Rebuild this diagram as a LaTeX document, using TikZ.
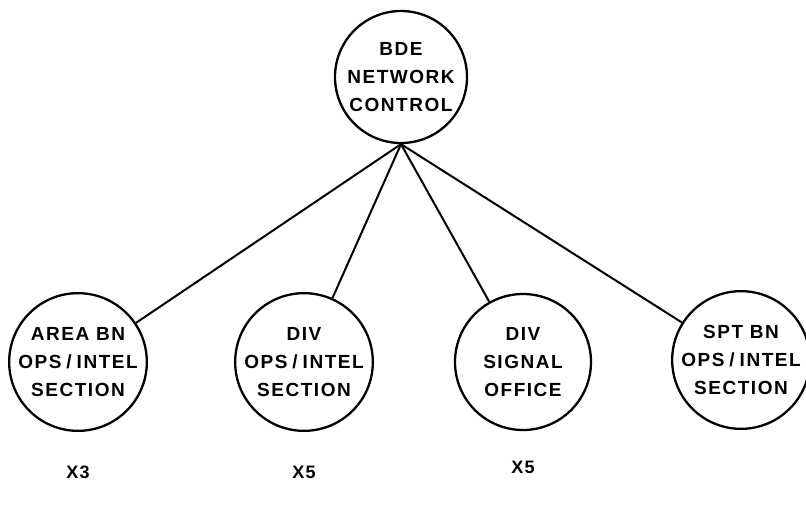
\documentclass[tikz,border=0pt]{standalone}
\usepackage{fontspec}
\setmainfont{Liberation Sans}[LetterSpace=8]
\newcommand{\sep}{\hspace{5pt}/\hspace{5pt}}
\begin{document}
\begin{tikzpicture}[x=1pt,y=-1pt,
  unit/.style={circle,draw,line width=2.3pt,minimum size=136pt,inner sep=0pt,
    align=center,font=\fontsize{19}{28}\selectfont\bfseries},
  link/.style={line width=2pt},
  count/.style={font=\fontsize{18}{20}\selectfont\bfseries}]
\useasboundingbox (0,0) rectangle (806,507);
\node[unit,minimum size=132pt] (bde) at (401,77) {BDE\\NETWORK\\CONTROL};
\node[unit] (area) at (78,362) {AREA BN\\OPS\sep INTEL\\SECTION};
\node[unit] (div) at (304,362) {DIV\\OPS\sep INTEL\\SECTION};
\node[unit] (sig) at (523,362) {DIV\\SIGNAL\\OFFICE};
\node[unit,minimum size=132pt] (spt) at (741,360) {SPT BN\\OPS\sep INTEL\\SECTION};
\coordinate (hub) at (bde.south);
\foreach \n in {area,div,sig,spt} \draw[link] (hub) -- (\n);
\node[count] (n1) at (78,472) {X3};
\node[count] (n2) at (304,472) {X5};
\node[count] (n3) at (523,467) {X5};
\end{tikzpicture}
\end{document}
